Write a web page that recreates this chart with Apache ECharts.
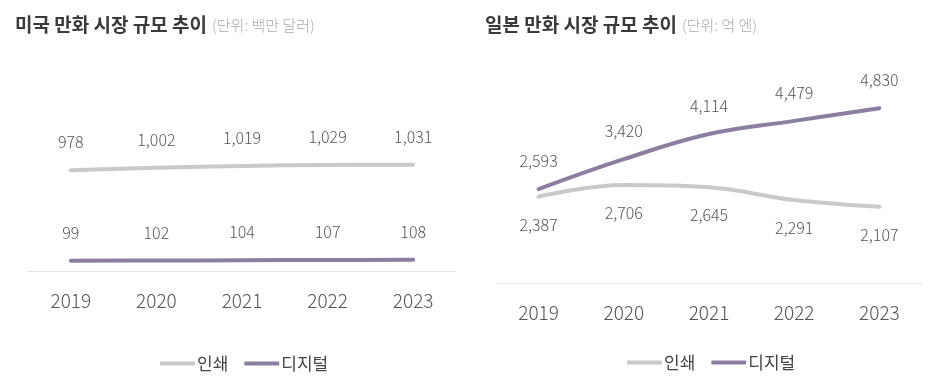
<!DOCTYPE html>
<html>
<head>
<meta charset="utf-8">
<script src="https://cdn.jsdelivr.net/npm/echarts@6/dist/echarts.min.js"></script>
<style>
html,body{margin:0;padding:0;background:#fff;}
#c{width:940px;height:391px;}
</style>
</head>
<body>
<div id="c"></div>
<script>
var years = ['2019','2020','2021','2022','2023'];
var usPrint = [978, 1002, 1019, 1029, 1031];
var usDigital = [99, 102, 104, 107, 108];
var jpPrint = [2387, 2706, 2645, 2291, 2107];
var jpDigital = [2593, 3420, 4114, 4479, 4830];
var seriesNames = ['인쇄', '디지털'];
var titles = ['미국 만화 시장 규모 추이', '일본 만화 시장 규모 추이'];
var units = ['(단위: 백만 달러)', '(단위: 억 엔)'];

var FONT = '"Noto Sans CJK KR", "Noto Sans", sans-serif';
var GRAY = '#c9c9c9', PURPLE = '#8b7ea1';

function fmt(p){ return Number(p.value).toLocaleString('en-US'); }

function lineSeries(name, data, idx, color, pos, smooth){
  return {
    name: name, type: 'line', xAxisIndex: idx, yAxisIndex: idx,
    data: data, smooth: smooth, symbol: 'circle', symbolSize: 0, showSymbol: true,
    lineStyle: {color: color, width: 4, cap: 'round'},
    itemStyle: {color: color},
    label: {show: true, position: pos, distance: 20, formatter: fmt,
      fontFamily: FONT, fontSize: 16, fontWeight: 300, color: '#555'}
  };
}

function titleObj(i, left){
  return {
    left: left, top: 10,
    text: '{a|' + titles[i] + '} {b|' + units[i] + '}',
    textStyle: {
      rich: {
        a: {fontFamily: FONT, fontSize: 19, fontWeight: 'bold', color: '#3a3a3a'},
        b: {fontFamily: FONT, fontSize: 15, fontWeight: 300, color: '#aaaaaa', padding: [2,0,0,0]}
      }
    }
  };
}

function xAx(idx){
  return {
    type: 'category', gridIndex: idx, data: years, boundaryGap: true,
    axisLine: {lineStyle: {color: '#e3e3e3', width: 1}},
    axisTick: {show: false},
    axisLabel: {fontFamily: FONT, fontSize: 19, fontWeight: 300, color: '#555', margin: 20}
  };
}
function yAx(idx, max){
  return {type: 'value', gridIndex: idx, min: 0, max: max, show: false, splitLine: {show: false}};
}
function legendObj(left, top){
  return {
    left: left, top: top, data: seriesNames, icon: 'roundRect',
    itemWidth: 35, itemHeight: 4, itemGap: 16,
    textStyle: {fontFamily: FONT, fontSize: 17, color: '#444', padding: [0,0,0,-3]}
  };
}

var chart = echarts.init(document.getElementById('c'), null, {renderer: 'canvas'});
chart.setOption({
  animation: false,
  backgroundColor: '#fff',
  color: [GRAY, PURPLE],
  title: [titleObj(0, 10), titleObj(1, 480)],
  legend: [legendObj(155, 350), legendObj(622, 349)],
  grid: [
    {left: 28, width: 428, bottom: 120, height: 134},
    {left: 496, width: 426, bottom: 108, height: 181}
  ],
  xAxis: [xAx(0), xAx(1)],
  yAxis: [yAx(0, 1300), yAx(1, 5000)],
  series: [
    lineSeries(seriesNames[0], usPrint, 0, GRAY, 'top', 0.4),
    lineSeries(seriesNames[1], usDigital, 0, PURPLE, 'top', 0.4),
    lineSeries(seriesNames[0], jpPrint, 1, GRAY, 'bottom', 0.4),
    lineSeries(seriesNames[1], jpDigital, 1, PURPLE, 'top', 0.4)
  ]
});
</script>
</body>
</html>
